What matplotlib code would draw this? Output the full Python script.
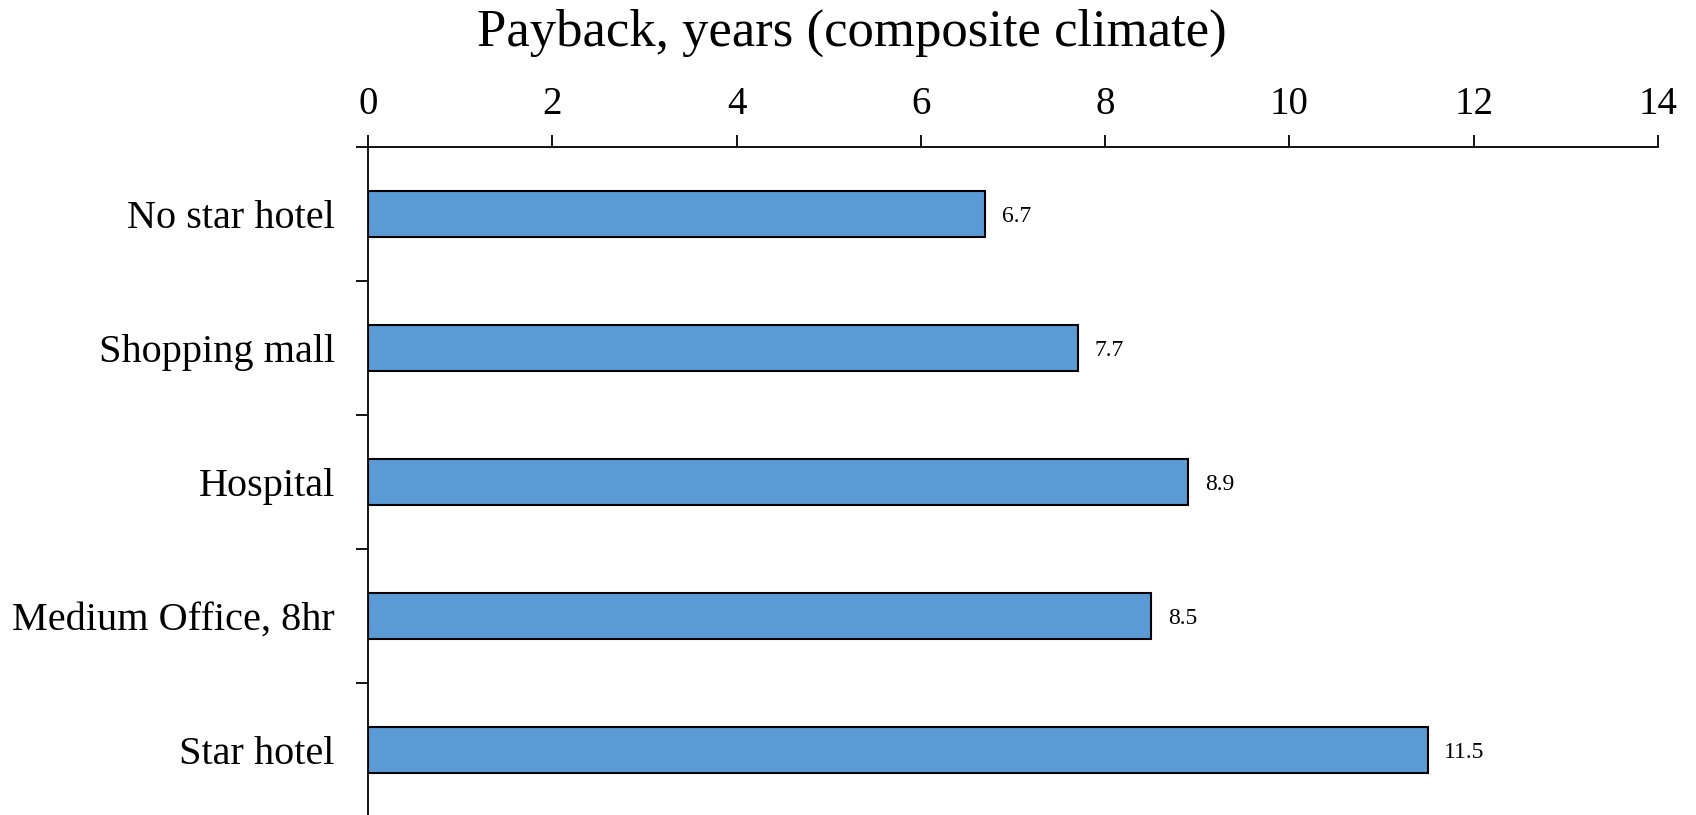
import matplotlib
matplotlib.use("Agg")
import matplotlib.pyplot as plt
import numpy as np

categories = ["No star hotel", "Shopping mall", "Hospital", "Medium Office, 8hr", "Star hotel"]
payback = [6.7, 7.7, 8.9, 8.5, 11.5]
xticks = [0, 2, 4, 6, 8, 10, 12, 14]
title = "Payback, years (composite climate)"

plt.rcParams['font.family'] = ['Liberation Serif', 'DejaVu Serif']

fig = plt.figure(figsize=(16.96, 8.15), dpi=100)
ax = fig.add_axes([368/1696, 1 - 817/815, (1658-368)/1696, 670/815])

y = np.arange(len(categories))
bars = ax.barh(y, payback, height=0.35, color="#5B9BD5", edgecolor="black", linewidth=1.5)
labels = ax.bar_label(bars, labels=[f"{v:.1f}" for v in payback], padding=12, fontsize=17)
for t in labels:
    t.set_verticalalignment('center_baseline')

ax.set_xlim(0, 14)
ax.set_ylim(len(categories) - 0.5, -0.5)

ax.xaxis.tick_top()
ax.set_xticks(xticks)
ax.set_xticklabels([str(t) for t in xticks], fontsize=28)
ax.tick_params(axis='x', direction='out', length=9, width=1.3, pad=8)

ax.set_yticks(np.arange(-0.5, len(categories) + 0.5, 1.0))
ax.set_yticklabels([])
ax.tick_params(axis='y', which='major', direction='out', length=9, width=1.3)
ax.set_yticks(y, minor=True)
ax.set_yticklabels(categories, minor=True, fontsize=29)
ax.tick_params(axis='y', which='minor', length=0, pad=24)

for s in ['right', 'bottom']:
    ax.spines[s].set_visible(False)
for s in ['top', 'left']:
    ax.spines[s].set_linewidth(1.3)

fig.suptitle(title, x=0.502, y=1 - 9/815, va='top', fontsize=38)

fig.savefig("out.png", dpi=100)
